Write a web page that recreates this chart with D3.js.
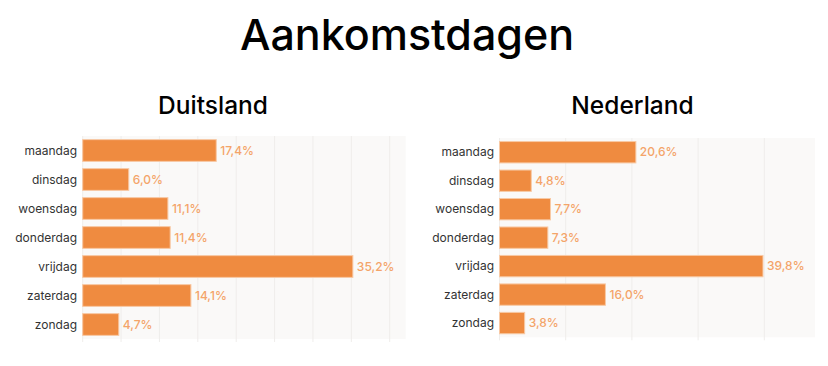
<!DOCTYPE html>
<html>
<head>
<meta charset="utf-8">
<script src="https://cdn.jsdelivr.net/npm/d3@7"></script>
<style>
  html, body { margin: 0; padding: 0; background: #ffffff; }
  svg { display: block; font-family: Inter, "Noto Sans", sans-serif; }
</style>
</head>
<body>
<svg id="chart" width="828" height="366"></svg>
<script>
const title = "Aankomstdagen";
const days = ["maandag", "dinsdag", "woensdag", "donderdag", "vrijdag", "zaterdag", "zondag"];
const panelTitles = ["Duitsland", "Nederland"];
const duitsland = [17.4, 6.0, 11.1, 11.4, 35.2, 14.1, 4.7];
const nederland = [20.6, 4.8, 7.7, 7.3, 39.8, 16.0, 3.8];
const ticksDuitsland = [0, 5, 10, 15, 20, 25, 30, 35, 40];
const ticksNederland = [0, 10, 20, 30, 40];

const svg = d3.select("#chart");

svg.append("text")
  .attr("x", 407).attr("y", 50)
  .attr("text-anchor", "middle")
  .attr("font-size", 43)
  .attr("font-weight", 500)
  .attr("fill", "#000")
  .text(title);

const panels = [
  { name: panelTitles[0], values: duitsland, ticks: ticksDuitsland,
    x0: 82.7, x40: 389.7, bgRight: 405.7, y0: 136, y1: 339, titleX: 213, labelX: 77 },
  { name: panelTitles[1], values: nederland, ticks: ticksNederland,
    x0: 499.5, x40: 764.3, bgRight: 815, y0: 138, y1: 337.3, titleX: 632.5, labelX: 494 }
];

const fmt = v => d3.format(".1f")(v).replace(".", ",") + "%";

panels.forEach(p => {
  const g = svg.append("g");
  const x = d3.scaleLinear().domain([0, 40]).range([p.x0, p.x40]);
  const y = d3.scaleBand().domain(days).range([p.y0, p.y1]).paddingInner(0.25).paddingOuter(0.125);

  g.append("text")
    .attr("x", p.titleX).attr("y", 113.5)
    .attr("text-anchor", "middle")
    .attr("font-size", 24.5)
    .attr("font-weight", 500)
    .attr("fill", "#000")
    .text(p.name);

  g.append("rect")
    .attr("x", x(0)).attr("y", p.y0)
    .attr("width", p.bgRight - x(0)).attr("height", p.y1 - p.y0)
    .attr("fill", "#faf9f8");

  g.selectAll("line.grid").data(p.ticks).join("line")
    .attr("class", "grid")
    .attr("x1", d => x(d)).attr("x2", d => x(d))
    .attr("y1", p.y0).attr("y2", p.y1 + 3)
    .attr("stroke", "#efedeb").attr("stroke-width", 1);

  g.selectAll("rect.bar").data(p.values).join("rect")
    .attr("class", "bar")
    .attr("x", x(0))
    .attr("y", (d, i) => y(days[i]))
    .attr("width", d => x(d) - x(0))
    .attr("height", y.bandwidth())
    .attr("fill", "#ef8b40")
    .attr("stroke", "#f8c9a4").attr("stroke-width", 1);

  g.selectAll("text.val").data(p.values).join("text")
    .attr("class", "val")
    .attr("x", d => x(d) + 4)
    .attr("y", (d, i) => y(days[i]) + y.bandwidth() / 2)
    .attr("dy", "0.35em")
    .attr("font-size", 12)
    .attr("font-weight", 500)
    .attr("fill", "#f4a469")
    .text(fmt);

  g.selectAll("text.cat").data(days).join("text")
    .attr("class", "cat")
    .attr("x", p.labelX)
    .attr("y", d => y(d) + y.bandwidth() / 2)
    .attr("dy", "0.35em")
    .attr("text-anchor", "end")
    .attr("font-size", 12)
    .attr("fill", "#333")
    .text(d => d);
});
</script>
</body>
</html>
